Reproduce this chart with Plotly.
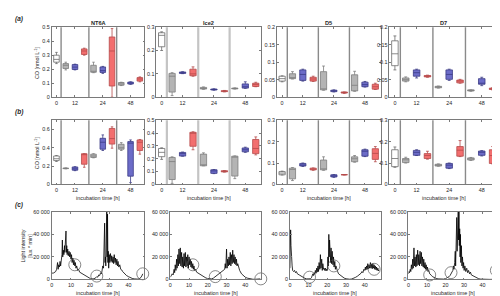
import plotly.graph_objects as go

# ---------------- data ----------------
box_pos = [1, 2, 3, 4, 5, 6, 7, 8, 9, 10]
box_kind = ["white", "grey", "blue", "red", "grey", "blue", "red", "grey", "blue", "red"]
x_tick_pos = [1, 3, 6, 9]
x_tick_lab = ["0", "12", "24", "48"]
divider_pos = [1.5, 4.5, 7.5]
site_names = ["NT6A", "Ice2", "D5", "D7"]

# (lower whisker, q1, median, q3, upper whisker)
a_nt6a = [(0.24, 0.25, 0.27, 0.30, 0.32), (0.195, 0.205, 0.228, 0.24, 0.25), (0.195, 0.198, 0.215, 0.233, 0.236),
          (0.30, 0.305, 0.33, 0.345, 0.35), (0.175, 0.178, 0.18, 0.228, 0.25), (0.17, 0.177, 0.19, 0.216, 0.22),
          (0.0, 0.08, 0.33, 0.43, 0.49), (0.083, 0.086, 0.095, 0.105, 0.107), (0.092, 0.094, 0.1, 0.108, 0.11),
          (0.11, 0.115, 0.13, 0.14, 0.145)]
a_ice2 = [(0.20, 0.216, 0.265, 0.276, 0.28), (0.007, 0.022, 0.09, 0.102, 0.105), (0.101, 0.102, 0.105, 0.108, 0.109),
          (0.09, 0.092, 0.10, 0.12, 0.13), (0.034, 0.035, 0.038, 0.042, 0.044), (0.030, 0.031, 0.033, 0.035, 0.036),
          (0.023, 0.024, 0.026, 0.028, 0.029), (0.035, 0.036, 0.037, 0.039, 0.040), (0.038, 0.039, 0.045, 0.057, 0.066),
          (0.045, 0.046, 0.055, 0.06, 0.064)]
a_d5 = [(0.044, 0.046, 0.053, 0.06, 0.061), (0.052, 0.053, 0.056, 0.067, 0.073), (0.046, 0.048, 0.065, 0.078, 0.08),
        (0.045, 0.046, 0.052, 0.057, 0.06), (0.02, 0.021, 0.022, 0.073, 0.089), (0.015, 0.016, 0.018, 0.02, 0.021),
        (0.011, 0.012, 0.013, 0.015, 0.015), (0.017, 0.018, 0.034, 0.064, 0.074), (0.029, 0.03, 0.036, 0.043, 0.045),
        (0.022, 0.023, 0.03, 0.037, 0.04)]
a_d7 = [(0.078, 0.09, 0.124, 0.161, 0.175), (0.044, 0.046, 0.05, 0.055, 0.058), (0.055, 0.06, 0.07, 0.078, 0.08),
        (0.057, 0.058, 0.06, 0.062, 0.063), (0.026, 0.027, 0.029, 0.031, 0.032), (0.048, 0.051, 0.065, 0.078, 0.08),
        (0.04, 0.041, 0.046, 0.049, 0.051), (0.017, 0.018, 0.019, 0.021, 0.021), (0.033, 0.037, 0.04, 0.053, 0.057),
        (0.021, 0.022, 0.024, 0.026, 0.027)]
b_nt6a = [(0.25, 0.26, 0.28, 0.31, 0.315), (0.17, 0.172, 0.175, 0.178, 0.18), (0.15, 0.155, 0.17, 0.19, 0.193),
          (0.187, 0.22, 0.33, 0.335, 0.335), (0.29, 0.294, 0.31, 0.33, 0.335), (0.37, 0.384, 0.46, 0.503, 0.54),
          (0.395, 0.44, 0.5, 0.61, 0.628), (0.37, 0.384, 0.4, 0.438, 0.456), (0.02, 0.09, 0.45, 0.467, 0.485),
          (0.33, 0.37, 0.46, 0.485, 0.49)]
b_ice2 = [(0.195, 0.216, 0.25, 0.28, 0.285), (0.008, 0.038, 0.178, 0.21, 0.215), (0.22, 0.221, 0.24, 0.249, 0.252),
          (0.27, 0.297, 0.40, 0.406, 0.41), (0.145, 0.145, 0.152, 0.236, 0.246), (0.084, 0.086, 0.105, 0.114, 0.116),
          (0.096, 0.098, 0.1, 0.107, 0.108), (0.045, 0.065, 0.22, 0.22, 0.222), (0.25, 0.254, 0.27, 0.284, 0.29),
          (0.23, 0.24, 0.28, 0.35, 0.37)]
b_d5 = [(0.044, 0.045, 0.053, 0.06, 0.062), (0.018, 0.026, 0.07, 0.076, 0.079), (0.084, 0.086, 0.09, 0.098, 0.1),
        (0.066, 0.068, 0.07, 0.076, 0.077), (0.066, 0.068, 0.07, 0.114, 0.129), (0.033, 0.035, 0.04, 0.045, 0.046),
        (0.044, 0.045, 0.045, 0.046, 0.046), (0.104, 0.106, 0.12, 0.129, 0.135), (0.13, 0.132, 0.155, 0.162, 0.165),
        (0.106, 0.117, 0.145, 0.167, 0.177)]
b_d7 = [(0.08, 0.083, 0.121, 0.162, 0.175), (0.1, 0.102, 0.115, 0.121, 0.127), (0.135, 0.136, 0.15, 0.159, 0.162),
        (0.118, 0.121, 0.135, 0.144, 0.155), (0.085, 0.086, 0.09, 0.094, 0.096), (0.074, 0.076, 0.09, 0.098, 0.1),
        (0.13, 0.132, 0.16, 0.177, 0.205), (0.112, 0.114, 0.12, 0.124, 0.126), (0.133, 0.136, 0.15, 0.156, 0.158),
        (0.096, 0.098, 0.135, 0.162, 0.177)]

a_yrange = [0.5, 0.3, 0.2, 0.2]
a_dtick = [0.1, 0.1, 0.05, 0.05]
b_yrange = [0.7, 0.5, 0.3, 0.3]
b_dtick = [0.2, 0.1, 0.1, 0.1]

# light intensity (time [h], lux*min)
l_nt6a_t = [0, 0.5, 1, 1.5, 2, 2.5, 3, 3.3, 3.6, 4, 4.3, 4.6, 5, 5.3, 5.5, 5.7, 6, 6.3, 6.6, 6.8, 7, 7.2, 7.4, 7.6, 7.8, 8,
            8.3, 8.6, 9, 9.3, 9.6, 10, 10.3, 10.6, 11, 11.3, 11.6, 12, 12.3, 12.6, 13, 13.5, 14, 14.5, 15, 16, 17, 18, 19,
            20, 21, 22, 23, 23.5, 24, 24.5, 25, 25.5, 26, 26.3, 26.6, 27, 27.2, 27.4, 27.6, 27.8, 28, 28.2, 28.5, 28.7,
            28.9, 29.1, 29.3, 29.5, 29.7, 30, 30.3, 30.6, 31, 31.3, 31.6, 32, 32.3, 32.6, 33, 33.3, 33.6, 34, 34.3, 34.6,
            35, 35.5, 36, 36.5, 37, 38, 39, 40, 41, 42, 43, 44, 45, 46, 46.5, 47, 47.5]
l_nt6a_v = [6000, 5500, 5800, 6500, 7000, 9000, 15000, 9000, 13000, 11000, 16000, 12000, 18000, 22000, 35000, 20000, 26000,
            22000, 30000, 24000, 40000, 25000, 43000, 24000, 30000, 22000, 27000, 21000, 25000, 20000, 24000, 18000, 22000,
            15000, 19000, 13000, 17000, 12000, 15000, 10000, 12000, 8000, 9000, 6500, 6000, 4500, 3500, 2500, 1500, 900,
            500, 600, 1500, 2500, 2000, 4000, 3500, 6000, 5000, 9000, 12000, 10000, 30000, 12000, 50000, 15000, 20000,
            12000, 30000, 60000, 20000, 58000, 15000, 25000, 10000, 22000, 15000, 23000, 16000, 21000, 15000, 20000,
            14000, 22000, 15000, 19000, 13000, 18000, 12000, 16000, 11000, 13000, 9000, 8500, 7000, 5000, 3500, 2500,
            1500, 900, 500, 300, 300, 700, 1500, 3000, 5000]
l_ice2_t = [0, 0.5, 1, 1.5, 2, 2.3, 2.6, 3, 3.3, 3.6, 4, 4.3, 4.6, 5, 5.3, 5.6, 6, 6.3, 6.6, 7, 7.3, 7.6, 8, 8.3, 8.6, 9,
            9.3, 9.6, 10, 10.3, 10.6, 11, 11.3, 11.6, 12, 12.3, 12.6, 13, 13.5, 14, 14.5, 15, 16, 17, 18, 19, 20, 21, 22,
            23, 24, 25, 26, 27, 28, 28.5, 29, 29.3, 29.6, 30, 30.3, 30.6, 31, 31.3, 31.6, 32, 32.3, 32.6, 33, 33.3, 33.6,
            34, 34.3, 34.6, 35, 35.3, 35.6, 36, 36.5, 37, 38, 39, 40, 41, 42, 43, 44, 45, 46, 47, 48]
l_ice2_v = [2000, 3000, 5000, 4000, 9000, 6000, 13000, 8000, 18000, 10000, 22000, 12000, 27000, 14000, 28000, 12000, 24000,
            11000, 20000, 10000, 23000, 12000, 24000, 11000, 20000, 12000, 22000, 10000, 20000, 13000, 18000, 11000, 16000,
            10000, 14000, 9000, 12000, 8000, 9000, 6500, 6000, 5000, 4000, 3000, 2000, 1300, 800, 400, 500, 1200, 2500,
            3500, 5000, 6000, 7000, 8000, 9000, 14000, 10000, 27000, 10000, 18000, 12000, 20000, 13000, 24000, 12000,
            22000, 14000, 26000, 15000, 22000, 14000, 20000, 13000, 18000, 12000, 14000, 10000, 8000, 5000, 3000, 2000,
            1200, 700, 400, 200, 100, 100, 200, 500]
l_d5_t = [0, 0.2, 0.4, 0.6, 0.8, 1, 1.2, 1.5, 2, 2.5, 3, 3.5, 4, 5, 6, 7, 8, 9, 10, 11, 11.5, 12, 12.3, 12.6, 13, 13.3, 13.6,
          14, 14.3, 14.6, 15, 15.3, 15.6, 16, 16.3, 16.6, 17, 17.3, 17.6, 18, 18.3, 18.6, 19, 19.3, 19.6, 20, 20.3, 20.6,
          20.8, 21, 21.2, 21.4, 21.6, 21.8, 22, 22.3, 22.6, 23, 23.3, 23.6, 24, 24.3, 24.6, 25, 25.5, 26, 27, 28, 29, 30,
          31, 32, 33, 34, 35, 36, 37, 38, 38.5, 39, 39.5, 40, 40.3, 40.6, 41, 41.3, 41.6, 42, 42.3, 42.6, 43, 43.3, 43.6,
          44, 44.3, 44.6, 45, 45.3, 45.6, 46, 46.3, 46.6, 47, 47.3, 47.6]
l_d5_v = [10000, 20000, 44000, 30000, 15000, 22000, 12000, 8000, 7000, 8000, 6000, 7000, 5000, 4000, 2800, 1800, 1000, 500,
          300, 600, 1500, 3000, 5000, 3500, 6000, 4500, 8000, 5500, 10000, 6500, 12000, 7000, 15000, 9000, 22000, 10000,
          18000, 8000, 14000, 9000, 10000, 8000, 10000, 7500, 9000, 8000, 20000, 12000, 40000, 20000, 35000, 18000, 30000,
          15000, 28000, 14000, 25000, 13000, 20000, 11000, 16000, 9000, 12000, 8000, 7000, 5000, 3500, 2200, 1200, 600,
          300, 200, 400, 900, 1800, 2800, 4000, 5500, 7000, 6000, 9000, 8000, 11000, 8500, 12000, 9000, 14000, 9500,
          13000, 10000, 15000, 10000, 13500, 9500, 14000, 10000, 13000, 9000, 12000, 8500, 11000, 8000, 10000, 7500, 8500]
l_d7_t = [0, 0.3, 0.6, 1, 1.3, 1.6, 2, 2.3, 2.6, 3, 3.3, 3.6, 4, 4.3, 4.6, 5, 5.3, 5.6, 6, 6.3, 6.6, 7, 7.3, 7.6, 8, 8.3,
          8.6, 9, 9.3, 9.6, 10, 10.3, 10.6, 11, 11.5, 12, 12.5, 13, 14, 15, 16, 17, 18, 19, 20, 21, 22, 22.5, 23, 23.5, 24,
          24.3, 24.6, 25, 25.3, 25.5, 25.7, 25.9, 26.1, 26.3, 26.5, 26.7, 26.9, 27.1, 27.3, 27.5, 27.7, 27.9, 28.1, 28.3,
          28.6, 28.9, 29.2, 29.5, 29.8, 30.1, 30.5, 31, 31.5, 32, 32.5, 33, 33.5, 34, 35, 36, 37, 38, 39, 40, 41, 42, 43,
          44, 45, 46, 46.5, 47, 47.5]
l_d7_v = [5000, 7000, 6000, 9000, 7000, 13000, 9000, 18000, 10000, 28000, 12000, 20000, 11000, 22000, 12000, 26000, 13000,
          22000, 12000, 25000, 14000, 24000, 12000, 20000, 11000, 18000, 10000, 15000, 9000, 13000, 8000, 11000, 7000,
          8000, 5000, 4500, 3500, 2500, 1500, 900, 500, 300, 200, 300, 700, 1500, 2500, 3500, 5000, 6000, 8000, 12000,
          9000, 15000, 25000, 12000, 40000, 20000, 55000, 25000, 45000, 30000, 60000, 35000, 62000, 30000, 45000, 20000,
          40000, 15000, 30000, 12000, 20000, 10000, 15000, 8000, 12000, 7000, 10000, 6000, 8000, 5000, 6500, 4000, 3000,
          2000, 1200, 600, 300, 150, 80, 50, 50, 50, 100, 300, 1500, 4000, 8000]
light_t = [l_nt6a_t, l_ice2_t, l_d5_t, l_d7_t]
light_v = [l_nt6a_v, l_ice2_v, l_d5_v, l_d7_v]

# sampling circles (time [h], lux*min)
circ_t = [[12, 23.5, 47.5], [12, 24, 48.3], [10.5, 23.5, 45], [11.5, 23, 47.5]]
circ_v = [[13000, 3000, 5000], [13000, 2500, 500], [2000, 12000, 9000], [4000, 6000, 8000]]
light_ticks = [0, 20000, 40000, 60000]
light_ticklab = ["0", "20 000", "40 000", "60 000"]
time_ticks = [0, 10, 20, 30, 40]

# ---------------- styling ----------------
W, H = 500, 296
FONT = "Liberation Sans"
TXT = "#262626"
fill = {"white": "#ffffff", "grey": "#b4b4b4", "blue": "#6c6cc8", "red": "#f26e6e"}
edge = {"white": "#6b6b6b", "grey": "#7d7d7d", "blue": "#3b3b86", "red": "#b54a4a"}

# frame pixel positions [left, right] and [top, bottom]
xa = [(42, 135), (147, 252), (268, 372), (381, 490)]
xc = [(42, 135), (161, 252), (281, 372), (400, 490)]
ya = (16.5, 88)
yb = (111.5, 177)
yc = (205, 274)


def px(p):
    return p / W


def py(p):
    return 1 - p / H


fig = go.Figure()
layout = {}
shapes = []
annotations = []
tfont = dict(family=FONT, size=5.4, color=TXT)

axis_common = dict(showgrid=False, zeroline=False, showline=True, linecolor="#7a7a7a", linewidth=0.8,
                   mirror="ticks", ticks="inside", ticklen=2, tickwidth=0.6, tickcolor="#7a7a7a",
                   tickfont=tfont)


def note(text, x, y, angle=0, xanchor="center", yanchor="middle", font=tfont):
    annotations.append(dict(text=text, x=px(x), y=py(y), xref="paper", yref="paper", xanchor=xanchor,
                            yanchor=yanchor, showarrow=False, textangle=angle, font=font, borderpad=0))


rows = [(a_nt6a, a_ice2, a_d5, a_d7), (b_nt6a, b_ice2, b_d5, b_d7)]
yr = [a_yrange, b_yrange]
dt = [a_dtick, b_dtick]
ydoms = [ya, yb]
hfont = dict(family=FONT, size=5.6, color=TXT)

k = 0
for r in range(2):
    for c in range(4):
        k += 1
        xn = "x" if k == 1 else f"x{k}"
        yn = "y" if k == 1 else f"y{k}"
        stats = rows[r][c]
        for kind in ["white", "grey", "blue", "red"]:
            idx = [i for i, kk in enumerate(box_kind) if kk == kind]
            fig.add_trace(go.Box(
                x=[box_pos[i] for i in idx],
                lowerfence=[stats[i][0] for i in idx],
                q1=[stats[i][1] for i in idx],
                median=[stats[i][2] for i in idx],
                q3=[stats[i][3] for i in idx],
                upperfence=[stats[i][4] for i in idx],
                fillcolor=fill[kind], line=dict(color=edge[kind], width=0.8),
                width=0.6, whiskerwidth=0.45, boxpoints=False, hoverinfo="skip",
                xaxis=xn, yaxis=yn, showlegend=False))
        xd = xa[c]
        layout[("xaxis" if k == 1 else f"xaxis{k}")] = dict(
            axis_common, domain=[px(xd[0]), px(xd[1])], range=[0.5, 10.5], anchor=yn,
            tickvals=x_tick_pos, ticktext=x_tick_lab)
        yd = ydoms[r]
        layout[("yaxis" if k == 1 else f"yaxis{k}")] = dict(
            axis_common, domain=[py(yd[1]), py(yd[0])], range=[0, yr[r][c]], dtick=dt[r][c], anchor=xn)
        light = c == 1
        for d in divider_pos:
            shapes.append(dict(type="line", xref=xn, yref=f"{yn} domain", x0=d, x1=d, y0=0, y1=1,
                               line=dict(color="#c4c4c4" if light else "#8a8a8a", width=2.2 if light else 1.4),
                               layer="below"))
        if r == 0:
            note(f"<b>{site_names[c]}</b>", (xd[0] + xd[1]) / 2, yd[0] - 4, font=hfont)
        else:
            note("incubation time [h]", (xd[0] + xd[1]) / 2, yd[1] + 9.5, yanchor="top")

for c in range(4):
    k += 1
    xn = f"x{k}"
    yn = f"y{k}"
    fig.add_trace(go.Scatter(x=light_t[c], y=light_v[c], mode="lines",
                             line=dict(color="#000000", width=0.8), hoverinfo="skip",
                             xaxis=xn, yaxis=yn, showlegend=False))
    fig.add_trace(go.Scatter(x=circ_t[c], y=circ_v[c], mode="markers", cliponaxis=False,
                             marker=dict(symbol="circle-open", size=12, color="#555555", line=dict(width=0.7)),
                             hoverinfo="skip", xaxis=xn, yaxis=yn, showlegend=False))
    xd = xc[c]
    layout[f"xaxis{k}"] = dict(axis_common, domain=[px(xd[0]), px(xd[1])], range=[0, 48.4], anchor=yn,
                               tickvals=time_ticks)
    layout[f"yaxis{k}"] = dict(axis_common, domain=[py(yc[1]), py(yc[0])], range=[0, 60000], anchor=xn,
                               tickvals=light_ticks, ticktext=light_ticklab)
    note("incubation time [h]", (xd[0] + xd[1]) / 2, yc[1] + 9.5, yanchor="top")

# y-axis titles
note("CO [nmol L<sup>-1</sup>]", 27, (ya[0] + ya[1]) / 2, angle=-90)
note("CO [nmol L<sup>-1</sup>]", 27, (yb[0] + yb[1]) / 2, angle=-90)
note("Light intensity<br>[lux * min]", 17, (yc[0] + yc[1]) / 2, angle=-90)

bfont = dict(family=FONT, size=6.5, color=TXT)
for lab, yy in [("(a)", 8), ("(b)", 103), ("(c)", 198)]:
    note(f"<b><i>{lab}</i></b>", 4, yy, xanchor="left", font=bfont)

fig.update_layout(**layout)
fig.update_layout(width=W, height=H, margin=dict(l=0, r=0, t=0, b=0), plot_bgcolor="white",
                  paper_bgcolor="white", shapes=shapes, annotations=annotations, showlegend=False,
                  boxmode="overlay", font=dict(family=FONT, size=5.4, color=TXT))
fig.write_html("out.html")
